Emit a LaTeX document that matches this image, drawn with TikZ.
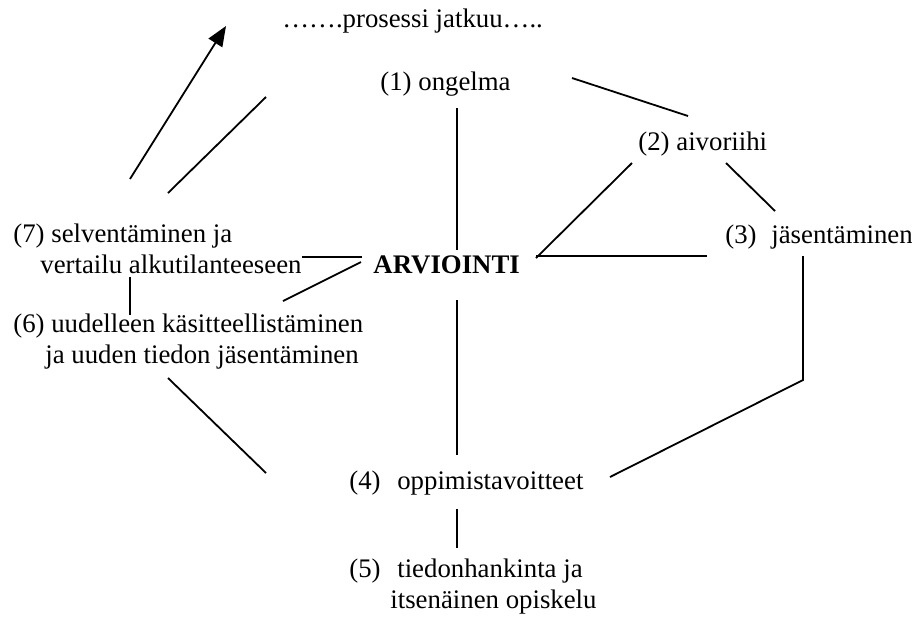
\documentclass[tikz,border=0pt]{standalone}
\usepackage{fontspec}
\setmainfont{Liberation Serif}
\usetikzlibrary{arrows.meta}

\begin{document}
\begin{tikzpicture}[x=0.5pt,y=-0.5pt]
  \tikzstyle{lbl}=[inner sep=0pt, anchor=base west, align=left, font=\fontsize{13.4}{15.4}\selectfont]
  \tikzstyle{conn}=[line width=0.9pt]
  \useasboundingbox (0,0) rectangle (912,617);
  % labels (multi-line ones sit on the baseline of their last line)
  \node (jatkuu) [lbl] at (282,27) {…….prosessi jatkuu…..};
  \node (ongelma) [lbl] at (380,90) {(1) ongelma};
  \node (aivo) [lbl] at (638,150) {(2) aivoriihi};
  \node (jasen) [lbl] at (725,243) {(3)\hspace*{4pt} jäsentäminen};
  \node (arvi) [lbl, font=\fontsize{13.4}{15.4}\selectfont\bfseries] at (373,273) {ARVIOINTI};
  \node (selv) [lbl] at (13,273) {(7) selventäminen ja\\\hspace*{13.5pt}vertailu alkutilanteeseen};
  \node (uudel) [lbl] at (13,363) {(6) uudelleen käsitteellistäminen\\\hspace*{16pt}ja uuden tiedon jäsentäminen};
  \node (oppim) [lbl] at (349,489) {(4)\hspace*{5pt} oppimistavoitteet};
  \node (tiedon) [lbl] at (349,608) {(5)\hspace*{5pt} tiedonhankinta ja\\\hspace*{20.5pt}itsenäinen opiskelu};
  % line ends
  \coordinate (selv-up1) at (130,179);  \coordinate (jatkuu-l1) at (226,26);
  \coordinate (selv-up2) at (168,193);  \coordinate (jatkuu-l2) at (266,97);
  \coordinate (ongelma-r) at (572,78);  \coordinate (aivo-nw) at (688,116);
  \coordinate (ongelma-s) at (457,108); \coordinate (arvi-n) at (457,250);
  \coordinate (arvi-ne) at (536,258);   \coordinate (aivo-sw) at (632,163);
  \coordinate (arvi-e) at (536,256);    \coordinate (jasen-w) at (707,256);
  \coordinate (aivo-se) at (726,163);   \coordinate (jasen-nw) at (775,211);
  \coordinate (jasen-s) at (803,256);   \coordinate (knee) at (803,380);
  \coordinate (oppim-e) at (610,477);
  \coordinate (arvi-s) at (457,300);    \coordinate (oppim-n) at (457,455);
  \coordinate (oppim-s) at (457,509);   \coordinate (tiedon-n) at (457,548);
  \coordinate (arvi-w) at (362,257);    \coordinate (selv-e) at (302,257);
  \coordinate (arvi-sw) at (361,262);   \coordinate (uudel-ne) at (283,301);
  \coordinate (selv-s) at (130,277);    \coordinate (uudel-n) at (130,315);
  \coordinate (uudel-s) at (168,378);   \coordinate (oppim-w) at (266,473);
  % connectors
  \draw [conn, -{Triangle[length=10pt,width=8pt]}] (selv-up1) -- (jatkuu-l1);
  \draw [conn] (selv-up2) -- (jatkuu-l2);
  \draw [conn] (ongelma-r) -- (aivo-nw);
  \draw [conn] (ongelma-s) -- (arvi-n);
  \draw [conn] (arvi-ne) -- (aivo-sw);
  \draw [conn] (arvi-e) -- (jasen-w);
  \draw [conn] (aivo-se) -- (jasen-nw);
  \draw [conn] (jasen-s) -- (knee) -- (oppim-e);
  \draw [conn] (arvi-s) -- (oppim-n);
  \draw [conn] (oppim-s) -- (tiedon-n);
  \draw [conn] (arvi-w) -- (selv-e);
  \draw [conn] (arvi-sw) -- (uudel-ne);
  \draw [conn] (selv-s) -- (uudel-n);
  \draw [conn] (uudel-s) -- (oppim-w);
\end{tikzpicture}
\end{document}
